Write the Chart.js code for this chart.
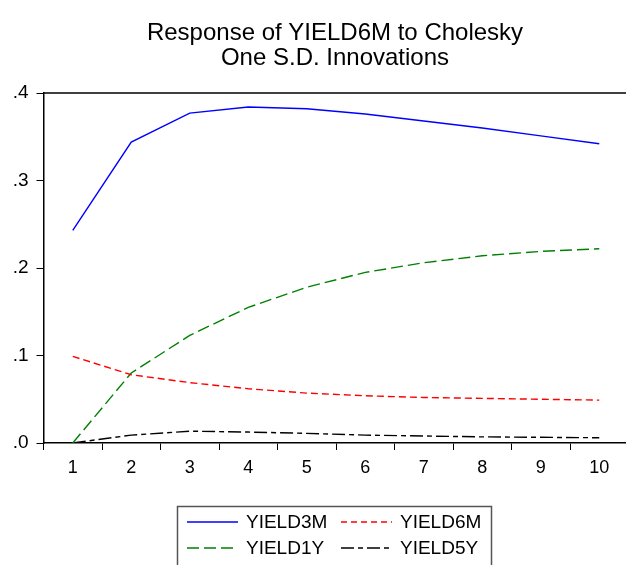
<!DOCTYPE html>
<html>
<head>
<meta charset="utf-8">
<script src="https://cdn.jsdelivr.net/npm/chart.js@4/dist/chart.umd.min.js"></script>
<style>
html,body{margin:0;padding:0;background:#fff;overflow:hidden;}
#wrap{width:626px;height:565px;overflow:hidden;position:relative;}
#box{width:640px;height:565px;}
</style>
</head>
<body>
<div id="wrap"><div id="box"><canvas id="c"></canvas></div></div>
<script>
const periods = ['1','2','3','4','5','6','7','8','9','10'];
const yield3m = [0.243, 0.344, 0.377, 0.384, 0.382, 0.376, 0.368, 0.360, 0.351, 0.342];
const yield6m = [0.099, 0.078, 0.069, 0.062, 0.057, 0.054, 0.052, 0.051, 0.050, 0.049];
const yield1y = [0.000, 0.080, 0.123, 0.155, 0.178, 0.195, 0.206, 0.214, 0.219, 0.222];
const yield5y = [0.000, 0.009, 0.0135, 0.0125, 0.011, 0.009, 0.008, 0.007, 0.0065, 0.006];
const yTicks = [0, 0.1, 0.2, 0.3, 0.4];
const titleLines = ['Response of YIELD6M to Cholesky', 'One S.D. Innovations'];

const FONT = '"Liberation Sans", Arial, sans-serif';

const datasets = [
  {label:'YIELD3M', data:yield3m, borderColor:'#0000ff', borderDash:[]},
  {label:'YIELD6M', data:yield6m, borderColor:'#ff0000', borderDash:[7,4]},
  {label:'YIELD1Y', data:yield1y, borderColor:'#008000', borderDash:[12,5]},
  {label:'YIELD5Y', data:yield5y, borderColor:'#000000', borderDash:[13,4,5,4]}
].map(d => Object.assign(d, {borderWidth:1.4, pointRadius:0, fill:false, tension:0}));

const decor = {
  id:'decor',
  afterDraw(chart){
    const ctx = chart.ctx, a = chart.chartArea;
    ctx.save();
    // top border
    ctx.strokeStyle = '#000'; ctx.lineWidth = 1.5;
    ctx.beginPath(); ctx.moveTo(a.left, a.top); ctx.lineTo(a.right, a.top); ctx.stroke();
    // title
    ctx.fillStyle = '#000'; ctx.font = '24px ' + FONT; ctx.textAlign = 'center'; ctx.textBaseline = 'alphabetic';
    ctx.fillText(titleLines[0], 335, 40);
    ctx.fillText(titleLines[1], 335, 65);
    // legend
    ctx.strokeStyle = '#555'; ctx.lineWidth = 1.5;
    ctx.strokeRect(177.5, 506.5, 314, 70);
    ctx.font = '19px ' + FONT; ctx.textAlign = 'left'; ctx.textBaseline = 'middle';
    const pos = [[187,522],[341,522],[187,548],[341,548]];
    chart.data.datasets.forEach((d,i) => {
      const [x,y] = pos[i];
      ctx.strokeStyle = d.borderColor; ctx.lineWidth = 1.4;
      ctx.setLineDash(i===1 ? [6,4] : (i===2 ? [12,5] : (i===3 ? [13,4,5,4] : [])));
      ctx.beginPath(); ctx.moveTo(x, y); ctx.lineTo(x+51, y); ctx.stroke();
      ctx.setLineDash([]);
      ctx.fillStyle = '#000';
      ctx.fillText(d.label, x+59, y+1);
    });
    ctx.restore();
  }
};

new Chart(document.getElementById('c'), {
  type:'line',
  data:{labels:periods, datasets},
  options:{
    responsive:true, maintainAspectRatio:false, animation:false,
    layout:{padding:{top:93, left:0, right:11.5, bottom:82}},
    plugins:{legend:{display:false}, title:{display:false}, tooltip:{enabled:false}},
    scales:{
      x:{
        offset:true,
        grid:{offset:true, drawOnChartArea:false, drawTicks:true, tickLength:7, color:'#000', lineWidth:1},
        border:{display:true, color:'#000', width:1.5},
        ticks:{color:'#000', font:{family:FONT, size:18}, padding:7, maxRotation:0},
        afterFit(s){ s.height = 40; }
      },
      y:{
        min:0, max:0.4,
        afterBuildTicks(s){ s.ticks = yTicks.map(v => ({value:v})); },
        grid:{drawOnChartArea:false, drawTicks:true, tickLength:7, color:'#000', lineWidth:1},
        border:{display:true, color:'#000', width:1.5},
        ticks:{color:'#000', font:{family:FONT, size:19}, padding:8,
          callback:v => v.toFixed(1).replace(/^0/, '')},
        afterFit(s){ s.width = 43.5; }
      }
    }
  },
  plugins:[decor]
});
</script>
</body>
</html>
